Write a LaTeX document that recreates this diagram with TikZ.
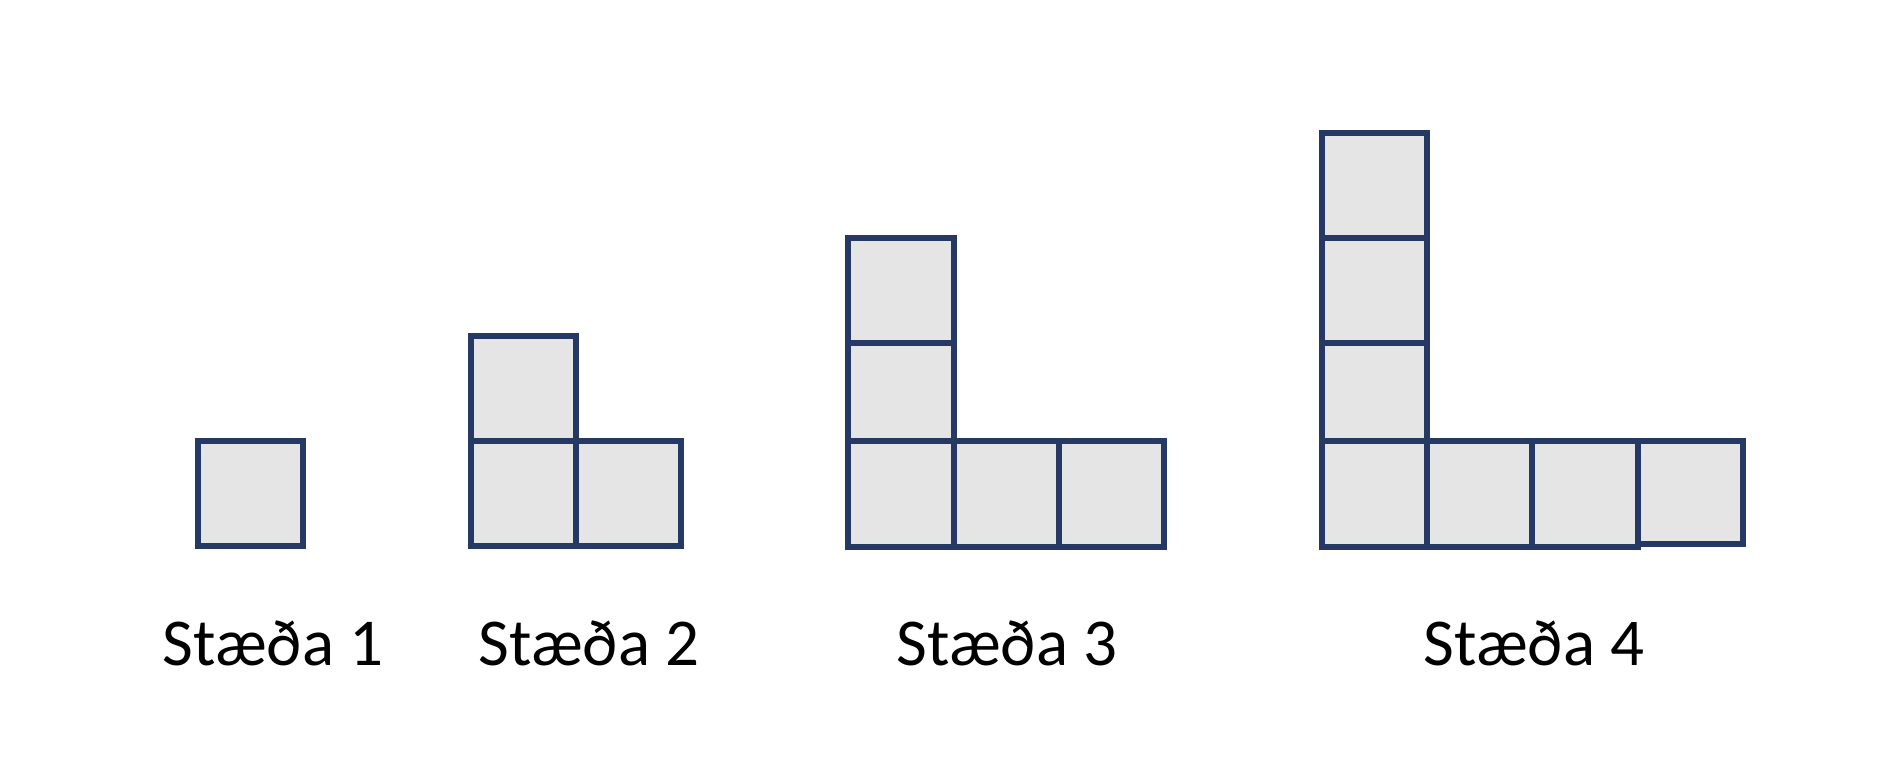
\documentclass[tikz,border=0pt]{standalone}
\usepackage{fontspec}
\setmainfont{Carlito}
\usepackage{xcolor}
\definecolor{cellline}{RGB}{38,57,100}
\definecolor{cellfill}{RGB}{229,229,229}

\tikzset{
  cell/.style={draw=cellline, fill=cellfill, line width=3pt},
  lbl/.style={anchor=base, font=\fontsize{33.5}{40}\selectfont}
}

\begin{document}
\begin{tikzpicture}[x=0.5pt,y=-0.5pt]
        \useasboundingbox (0,0) rectangle (1894,782);
        % Stada 1
        \draw[cell] (198,441) rectangle (303,546);
        % Stada 2
        \foreach \a/\b in {471/576, 576/681}
            \draw[cell] (\a,441) rectangle (\b,546);
        \draw[cell] (471,336) rectangle (576,441);
        % Stada 3
        \foreach \a/\b in {848/954, 954/1059, 1059/1164}
            \draw[cell] (\a,441) rectangle (\b,547);
        \foreach \t/\u in {343/441, 238/343}
            \draw[cell] (848,\t) rectangle (954,\u);
        % Stada 4
        \foreach \a/\b in {1322/1427, 1427/1532, 1532/1638}
            \draw[cell] (\a,441) rectangle (\b,547);
        \draw[cell] (1638,441) rectangle (1743,544);
        \foreach \t/\u in {343/441, 238/343, 133/238}
            \draw[cell] (1322,\t) rectangle (1427,\u);

        \node[lbl] (s1) at (273,665) {Stæða 1};
        \node[lbl] (s2) at (589,665) {Stæða 2};
        \node[lbl] (s3) at (1007,665) {Stæða 3};
        \node[lbl] (s4) at (1534,665) {Stæða 4};
    \end{tikzpicture}
\end{document}
